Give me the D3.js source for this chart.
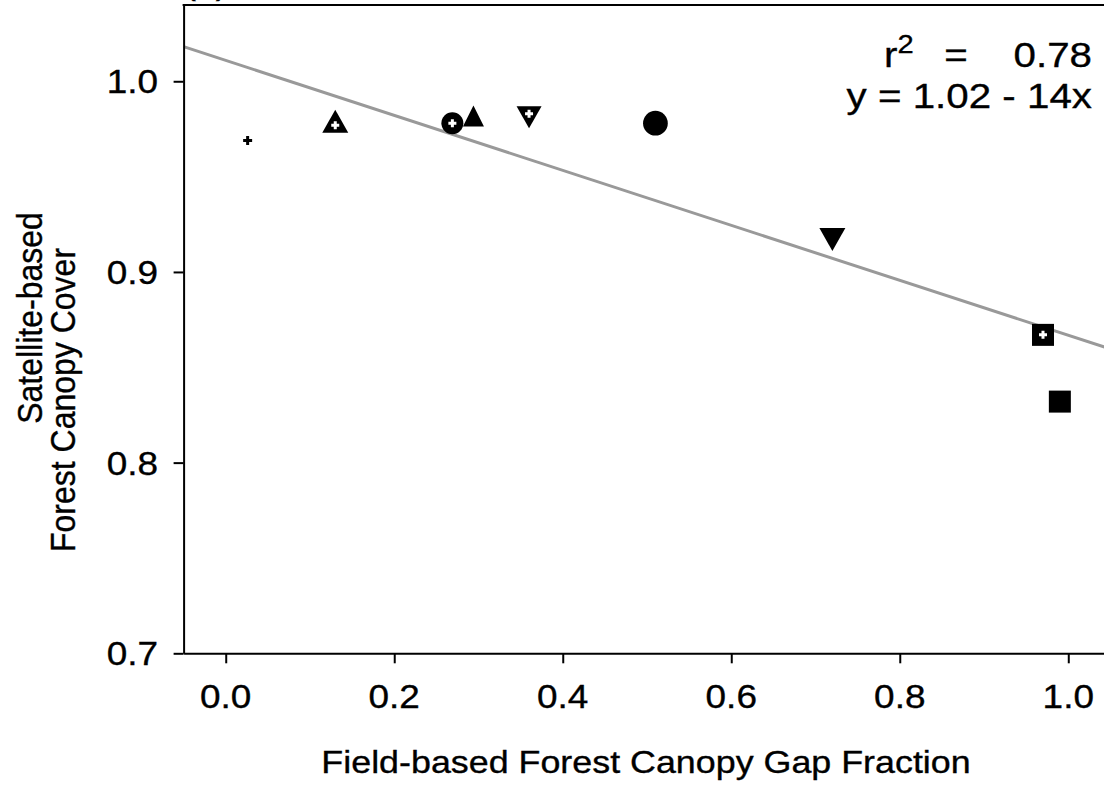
<!DOCTYPE html>
<html>
<head>
<meta charset="utf-8">
<script src="https://cdn.jsdelivr.net/npm/d3@7"></script>
<style>
  html, body { margin: 0; padding: 0; background: #fff; overflow: hidden; }
  svg { display: block; }
  text { font-family: "Liberation Sans", Arial, sans-serif; fill: #000; stroke: #000; stroke-width: 0.35px; }
</style>
</head>
<body>
<svg id="chart" width="1104" height="785"></svg>
<script>
// Field gap fraction vs. satellite canopy cover, one marker per site
const gapFraction = [0.026, 0.130, 0.269, 0.294, 0.360, 0.510, 0.720, 0.970, 0.990];
const canopyCover = [0.969, 0.977, 0.978, 0.980, 0.983, 0.978, 0.919, 0.867, 0.832];
const markerShape = ["plus", "triangleUp", "circle", "triangleUp", "triangleDown", "circle", "triangleDown", "square", "square"];
const markerCross = [false, true, true, false, true, false, false, true, false];

const xTicks = [0.0, 0.2, 0.4, 0.6, 0.8, 1.0];
const yTicks = [0.7, 0.8, 0.9, 1.0];
const xDomain = [-0.05, 1.05];
const yDomain = [0.7, 1.04];

const r2Value = "0.78";
const equationText = "y = 1.02 - 14x";
const xTitle = "Field-based Forest Canopy Gap Fraction";
const yTitleLines = ["Satellite-based", "Forest Canopy Cover"];

// Layout
const plot = { left: 183.6, right: 1110.4, top: 5, bottom: 653.3 };
const FS = 32;        // font size for titles
const TFS = 33;       // font size for tick labels
const SFS = 36;       // font size for fit statistics
const SX = 1.12;      // horizontal glyph stretch

const svg = d3.select("#chart");
const x = d3.scaleLinear().domain(xDomain).range([plot.left, plot.right]);
const y = d3.scaleLinear().domain(yDomain).range([plot.bottom, plot.top]);

// Marker geometry per shape/fill combination
const markerStyle = {
  "plus|false":         { w: 9,  h: 9 },
  "triangleUp|true":    { w: 26, h: 23 },
  "triangleUp|false":   { w: 21, h: 21 },
  "triangleDown|true":  { w: 25, h: 22 },
  "triangleDown|false": { w: 26, h: 23 },
  "circle|true":        { w: 22, h: 22 },
  "circle|false":       { w: 25, h: 24.5 },
  "square|true":        { w: 22, h: 22 },
  "square|false":       { w: 22, h: 22 }
};

function markerPath(shape, w, h) {
  const p = d3.path();
  if (shape === "triangleUp") {
    p.moveTo(0, -2 * h / 3); p.lineTo(w / 2, h / 3); p.lineTo(-w / 2, h / 3); p.closePath();
  } else if (shape === "triangleDown") {
    p.moveTo(0, 2 * h / 3); p.lineTo(w / 2, -h / 3); p.lineTo(-w / 2, -h / 3); p.closePath();
  } else if (shape === "square") {
    p.rect(-w / 2, -h / 2, w, h);
  } else if (shape === "circle") {
    p.arc(0, 0, (w + h) / 4, 0, 2 * Math.PI);
  }
  return p.toString();
}

function crossPath(s, t) {
  // plus sign of span s and arm thickness t
  const a = s / 2, b = t / 2;
  return `M${-b},${-a}H${b}V${-b}H${a}V${b}H${b}V${a}H${-b}V${b}H${-a}V${-b}H${-b}Z`;
}

function addText(g, str, px, py, anchor, size) {
  return g.append("text")
    .attr("transform", `translate(${px},${py}) scale(${SX},1)`)
    .attr("text-anchor", anchor)
    .attr("font-size", size || FS)
    .text(str);
}

// Clip region for the plot interior
svg.append("clipPath").attr("id", "plotClip")
  .append("rect")
  .attr("x", plot.left).attr("y", plot.top)
  .attr("width", plot.right - plot.left).attr("height", plot.bottom - plot.top);

// Least-squares fit of the site values
const n = gapFraction.length;
const mx = d3.mean(gapFraction), my = d3.mean(canopyCover);
let sxy = 0, sxx = 0;
for (let i = 0; i < n; i++) {
  sxy += (gapFraction[i] - mx) * (canopyCover[i] - my);
  sxx += (gapFraction[i] - mx) ** 2;
}
const slope = sxy / sxx;
const intercept = my - slope * mx;

svg.append("line")
  .attr("clip-path", "url(#plotClip)")
  .attr("x1", x(xDomain[0])).attr("y1", y(intercept + slope * xDomain[0]))
  .attr("x2", x(xDomain[1])).attr("y2", y(intercept + slope * xDomain[1]))
  .attr("stroke", "#999999").attr("stroke-width", 3);

// Axes
const xAxis = svg.append("g")
  .attr("transform", `translate(0,${plot.bottom})`)
  .call(d3.axisBottom(x).tickValues(xTicks).tickSize(10).tickSizeOuter(0).tickFormat(d3.format(".1f")));
const yAxis = svg.append("g")
  .attr("transform", `translate(${plot.left},0)`)
  .call(d3.axisLeft(y).tickValues(yTicks).tickSize(10).tickSizeOuter(0).tickFormat(d3.format(".1f")));
[xAxis, yAxis].forEach(g => {
  g.select(".domain").attr("stroke", "#000").attr("stroke-width", 2);
  g.selectAll(".tick line").attr("stroke", "#000").attr("stroke-width", 2);
  g.selectAll(".tick text").remove();
});
// top frame
svg.append("line")
  .attr("x1", plot.left - 1).attr("x2", plot.right)
  .attr("y1", plot.top).attr("y2", plot.top)
  .attr("stroke", "#000").attr("stroke-width", 2);

// Tick labels
const labels = svg.append("g");
xTicks.forEach(v => addText(labels, d3.format(".1f")(v), x(v), 708, "middle", TFS));
yTicks.forEach(v => addText(labels, d3.format(".1f")(v), 158, y(v) + 12, "end", TFS));

// Markers
const marks = svg.append("g").attr("clip-path", "url(#plotClip)");
for (let i = 0; i < n; i++) {
  const st = markerStyle[markerShape[i] + "|" + markerCross[i]];
  const g = marks.append("g").attr("transform", `translate(${x(gapFraction[i])},${y(canopyCover[i])})`);
  if (markerShape[i] === "plus") {
    g.append("path").attr("d", crossPath(st.w, 3)).attr("fill", "#000");
  } else {
    g.append("path").attr("d", markerPath(markerShape[i], st.w, st.h)).attr("fill", "#000");
    if (markerCross[i]) {
      g.append("path").attr("d", crossPath(8, 3)).attr("fill", "#fff");
    }
  }
}

// Fit statistics
const stats = svg.append("g");
const r2 = addText(stats, "r", 884, 67, "start", SFS);
r2.append("tspan").attr("dy", -14).attr("font-size", 26).text("2");
addText(stats, "=", 956, 67, "middle", SFS);
addText(stats, r2Value, 1092, 67, "end", SFS);
addText(stats, equationText, 1092, 108, "end", SFS);

// Axis titles (rotated, stretched across the glyph height)
yTitleLines.forEach((t, i) => {
  svg.append("text")
    .attr("transform", `translate(${[42, 75][i]},${[318, 400][i]}) rotate(-90) scale(1,${SX})`)
    .attr("text-anchor", "middle")
    .attr("font-size", FS)
    .text(t);
});
addText(svg, xTitle, 646, 773, "middle");

// Panel letter (mostly above the frame)
addText(svg, "(a)", 184, -6, "start");
</script>
</body>
</html>
